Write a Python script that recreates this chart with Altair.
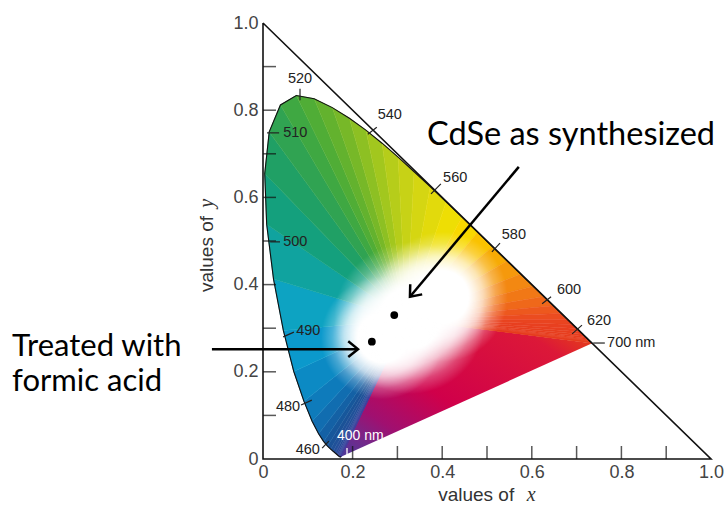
import altair as alt
import pandas as pd

# ---------------- data ----------------
# CIE 1931 spectral locus (wavelength nm, x, y)
wavelengths = [380, 385, 390, 395, 400, 405, 410, 415, 420, 425, 430, 435, 440, 445, 450,
               455, 460, 465, 470, 475, 480, 485, 490, 495, 500, 505, 510, 515, 520, 525,
               530, 535, 540, 545, 550, 555, 560, 565, 570, 575, 580, 585, 590, 595, 600,
               605, 610, 615, 620, 625, 630, 635, 640, 645, 650, 655, 660, 665, 670, 675,
               680, 700]
locus_x = [0.1741, 0.1740, 0.1738, 0.1736, 0.1733, 0.1730, 0.1726, 0.1721, 0.1714, 0.1703,
           0.1689, 0.1669, 0.1644, 0.1611, 0.1566, 0.1510, 0.1440, 0.1355, 0.1241, 0.1096,
           0.0913, 0.0687, 0.0454, 0.0235, 0.0082, 0.0039, 0.0139, 0.0389, 0.0743, 0.1142,
           0.1547, 0.1929, 0.2296, 0.2658, 0.3016, 0.3373, 0.3731, 0.4087, 0.4441, 0.4788,
           0.5125, 0.5448, 0.5752, 0.6029, 0.6270, 0.6482, 0.6658, 0.6801, 0.6915, 0.7006,
           0.7079, 0.7140, 0.7190, 0.7230, 0.7260, 0.7283, 0.7300, 0.7311, 0.7320, 0.7327,
           0.7334, 0.7347]
locus_y = [0.0050, 0.0050, 0.0049, 0.0049, 0.0048, 0.0048, 0.0048, 0.0048, 0.0051, 0.0058,
           0.0069, 0.0086, 0.0109, 0.0138, 0.0177, 0.0227, 0.0297, 0.0399, 0.0578, 0.0868,
           0.1327, 0.2007, 0.2950, 0.4127, 0.5384, 0.6548, 0.7502, 0.8120, 0.8338, 0.8262,
           0.8059, 0.7816, 0.7543, 0.7243, 0.6923, 0.6589, 0.6245, 0.5896, 0.5547, 0.5202,
           0.4866, 0.4544, 0.4242, 0.3965, 0.3725, 0.3514, 0.3340, 0.3197, 0.3083, 0.2993,
           0.2920, 0.2859, 0.2809, 0.2770, 0.2740, 0.2717, 0.2700, 0.2689, 0.2680, 0.2673,
           0.2666, 0.2653]

# edge colours
color_wl = [380, 420, 450, 460, 470, 480, 490, 495, 500, 505, 510, 520, 530, 540, 550,
            560, 570, 575, 580, 590, 600, 610, 620, 700]
color_hex = ["#4b3a9a", "#45409e", "#22509a", "#185296", "#1266aa", "#0c82c0", "#0aa0d0",
             "#10a6b4", "#10a08a", "#18a070", "#28a05a", "#46aa3a", "#6cb42a", "#98c420",
             "#c0d018", "#dcd810", "#f4e000", "#fcd000", "#f8b400", "#f49010", "#f07018",
             "#ec5020", "#e84020", "#e43a1c"]
purple_offsets = [0.0, 0.12, 0.55, 0.78, 0.9, 1.0]
purple_colors = ["#e43a1c", "#dc1838", "#d0004a", "#a01070", "#702a8c", "#4b3a9a"]

white_x, white_y = 0.32, 0.32
blob_x = [0.276, 0.332, 0.398]
blob_y = [0.278, 0.323, 0.372]
blob_r = [0.17, 0.21, 0.18]

# measured sample points
pt_x = [0.293, 0.243]
pt_y = [0.330, 0.269]

# wavelength markers
wl_text = ["520", "510", "540", "560", "580", "600", "620", "700 nm", "500", "490", "480", "460"]
wl_lx = [0.0826, 0.045, 0.256, 0.402, 0.533, 0.656, 0.723, 0.768, 0.045, 0.074, 0.083, 0.127]
wl_ly = [0.872, 0.748, 0.789, 0.644, 0.514, 0.388, 0.317, 0.266, 0.498, 0.294, 0.119, 0.021]
wl_align = ["center", "left", "left", "left", "left", "left", "left", "left", "left", "left", "right", "right"]
tk_x1 = [0.0826, 0.009, 0.234, 0.375, 0.511, 0.623, 0.690, 0.737, 0.016, 0.045, 0.085, 0.132]
tk_y1 = [0.849, 0.748, 0.745, 0.608, 0.475, 0.356, 0.287, 0.266, 0.498, 0.280, 0.124, 0.025]
tk_x2 = [0.0826, 0.036, 0.254, 0.397, 0.529, 0.643, 0.712, 0.763, 0.038, 0.069, 0.109, 0.147]
tk_y2 = [0.823, 0.748, 0.761, 0.631, 0.495, 0.372, 0.307, 0.266, 0.498, 0.291, 0.135, 0.041]

# "400 nm" marker (white)
v_text, v_lx, v_ly = ["400 nm"], [0.165], [0.053]
v_tx1, v_ty1, v_tx2, v_ty2 = [0.1875], [0.025], [0.1875], [0.005]

# axis ticks
x_ticks = [0.2, 0.3, 0.4, 0.5, 0.6, 0.7, 0.8, 0.9]
y_ticks = [0.1, 0.2, 0.3, 0.4, 0.5, 0.6, 0.7, 0.8, 0.9]
axis_labels = [0, 0.2, 0.4, 0.6, 0.8, 1.0]

# annotations
ann_text = ["CdSe as synthesized", "Treated with", "formic acid"]
ann_x = [0.366, -0.560, -0.560]
ann_y = [0.720, 0.236, 0.156]
ann_size = [32.5, 31, 31]
arr_x1 = [0.571, -0.114]
arr_y1 = [0.670, 0.252]
arr_x2 = [0.328, 0.212]
arr_y2 = [0.372, 0.252]
arr_angle = [130, 0]

# axis titles (plain part + italic variable)
title_txt = ["values of", "x"]
title_x = [0.391, 0.589]
title_y = [-0.082, -0.082]
ytitle_txt = ["values of", "y"]
ytitle_x = [-0.125, -0.125]
ytitle_y = [0.383, 0.576]

# ---------------- build ----------------
X = alt.Scale(domain=[0, 1], nice=False, zero=False)
Y = alt.Scale(domain=[0, 1], nice=False, zero=False)
lab_expr = "datum.value == 0 ? '0' : format(datum.value, '.1f')"
X_AXIS = alt.Axis(values=axis_labels, ticks=False, tickSize=0, domain=False, grid=False,
                  title=None, labelExpr=lab_expr, labelFont="Liberation Sans",
                  labelFontSize=18, labelColor="#444", labelPadding=4, labelFlush=False)
Y_AXIS = alt.Axis(values=axis_labels, ticks=False, tickSize=0, domain=False, grid=False,
                  title=None, labelExpr=lab_expr, labelFont="Liberation Sans",
                  labelFontSize=18, labelColor="#444", labelPadding=5, labelFlush=False)
xe = lambda f="x": alt.X(f"{f}:Q", scale=X, axis=X_AXIS)
ye = lambda f="y": alt.Y(f"{f}:Q", scale=Y, axis=Y_AXIS)

rows = []
for i in range(len(wavelengths) - 1):
    mid = (wavelengths[i] + wavelengths[i + 1]) / 2
    for k, (px, py) in enumerate([(white_x, white_y), (locus_x[i], locus_y[i]),
                                  (locus_x[i + 1], locus_y[i + 1])]):
        rows.append({"w": i, "k": k, "x": px, "y": py, "wl": mid})
wedge_df = pd.DataFrame(rows)
cscale = alt.Scale(domain=color_wl, range=color_hex, interpolate="rgb")

wedges = alt.Chart(wedge_df).mark_line(strokeWidth=0.7, strokeJoin="round").encode(
    x=xe(), y=ye(), order="k:Q", detail="w:N",
    fill=alt.Fill("wl:Q", scale=cscale, legend=None),
    stroke=alt.Stroke("wl:Q", scale=cscale, legend=None))

# purple triangle
tri_x = [white_x, locus_x[-1], locus_x[0]]
tri_y = [white_y, locus_y[-1], locus_y[0]]
bx0, bx1, by0, by1 = min(tri_x), max(tri_x), min(tri_y), max(tri_y)
pgrad = {"gradient": "linear",
         "x1": (locus_x[-1] - bx0) / (bx1 - bx0), "y1": (by1 - locus_y[-1]) / (by1 - by0),
         "x2": (locus_x[0] - bx0) / (bx1 - bx0), "y2": (by1 - locus_y[0]) / (by1 - by0),
         "stops": [{"offset": o, "color": c} for o, c in zip(purple_offsets, purple_colors)]}
tri = alt.Chart(pd.DataFrame({"x": tri_x, "y": tri_y, "k": [0, 1, 2]})).mark_line(
    fill=pgrad, strokeWidth=0).encode(x=xe(), y=ye(), order="k:Q")

# white blobs over the gamut
gamut_df = pd.DataFrame({"x": locus_x, "y": locus_y, "k": list(range(len(locus_x)))})
gx0, gx1, gy0, gy1 = min(locus_x), max(locus_x), min(locus_y), max(locus_y)
blobs = []
for bx, by, r in zip(blob_x, blob_y, blob_r):
    cx = (bx - gx0) / (gx1 - gx0)
    cy = (gy1 - by) / (gy1 - gy0)
    g = {"gradient": "radial", "x1": cx, "y1": cy, "r1": 0, "x2": cx, "y2": cy, "r2": r,
         "stops": [{"offset": 0, "color": "rgba(255,255,255,1)"},
                   {"offset": 0.4, "color": "rgba(255,255,255,1)"},
                   {"offset": 0.62, "color": "rgba(255,255,255,0.7)"},
                   {"offset": 0.82, "color": "rgba(255,255,255,0.25)"},
                   {"offset": 1, "color": "rgba(255,255,255,0)"}]}
    blobs.append(alt.Chart(gamut_df).mark_line(fill=g, strokeWidth=0).encode(
        x=xe(), y=ye(), order="k:Q"))

outline = alt.Chart(gamut_df).mark_line(color="#111", strokeWidth=1.1).encode(
    x=xe(), y=ye(), order="k:Q")

frame_df = pd.DataFrame({"x": [0, 0, 1, 0], "y": [1, 0, 0, 1], "k": [0, 1, 2, 3]})
frame = alt.Chart(frame_df).mark_line(color="#111", strokeWidth=1.6).encode(
    x=xe(), y=ye(), order="k:Q")

xt = alt.Chart(pd.DataFrame({"v": x_ticks})).mark_tick(
    orient="vertical", size=13, thickness=1.5, color="#111", yOffset=-6.5).encode(
    x=xe("v"), y=alt.YDatum(0, scale=Y, axis=Y_AXIS))
yt = alt.Chart(pd.DataFrame({"v": y_ticks})).mark_tick(
    orient="horizontal", size=13, thickness=1.5, color="#111", xOffset=6.5).encode(
    y=ye("v"), x=alt.XDatum(0, scale=X, axis=X_AXIS))

wl_df = pd.DataFrame({"t": wl_text, "lx": wl_lx, "ly": wl_ly, "al": wl_align,
                      "x1": tk_x1, "y1": tk_y1, "x2": tk_x2, "y2": tk_y2})
wl_ticks = alt.Chart(wl_df).mark_rule(color="#222", strokeWidth=1.2).encode(
    x=xe("x1"), y=ye("y1"), x2="x2:Q", y2="y2:Q")
wl_layers = []
for al in ["left", "center", "right"]:
    wl_layers.append(alt.Chart(wl_df).transform_filter(alt.datum.al == al).mark_text(
        align=al, baseline="middle", font="Liberation Sans", fontSize=14.5, color="#222").encode(
        x=xe("lx"), y=ye("ly"), text="t:N"))

v_df = pd.DataFrame({"t": v_text, "lx": v_lx, "ly": v_ly, "x1": v_tx1, "y1": v_ty1,
                     "x2": v_tx2, "y2": v_ty2})
v_tick = alt.Chart(v_df).mark_rule(color="white", strokeWidth=1.3).encode(
    x=xe("x1"), y=ye("y1"), x2="x2:Q", y2="y2:Q")
v_lab = alt.Chart(v_df).mark_text(align="left", baseline="middle", font="Liberation Sans",
                                  fontSize=14, color="white").encode(
    x=xe("lx"), y=ye("ly"), text="t:N")

pts = alt.Chart(pd.DataFrame({"x": pt_x, "y": pt_y})).mark_circle(
    size=60, color="black", opacity=1).encode(x=xe(), y=ye())

arr_df = pd.DataFrame({"x1": arr_x1, "y1": arr_y1, "x2": arr_x2, "y2": arr_y2, "a": arr_angle})
arr_lines = alt.Chart(arr_df).mark_rule(color="black", strokeWidth=2.5).encode(
    x=xe("x1"), y=ye("y1"), x2="x2:Q", y2="y2:Q")
arr_heads = alt.Chart(arr_df).mark_point(
    shape="M-1,-0.8L0,0L-1,0.8", size=380, filled=False, color="black", strokeWidth=2.5,
    opacity=1).encode(x=xe("x2"), y=ye("y2"), angle=alt.Angle("a:Q", scale=None))

ann_df = pd.DataFrame({"t": ann_text, "x": ann_x, "y": ann_y, "s": ann_size})
ann = alt.Chart(ann_df).mark_text(
    align="left", baseline="alphabetic", font="Lato", color="black").encode(
    x=xe(), y=ye(), text="t:N", size=alt.Size("s:Q", scale=None, legend=None))

tparts = []
for i in range(2):
    fnt = "Liberation Sans" if i == 0 else "Liberation Serif"
    sty = "normal" if i == 0 else "italic"
    fs = 19 if i == 0 else 20
    tparts.append(alt.Chart(pd.DataFrame({"t": [title_txt[i]], "x": [title_x[i]], "y": [title_y[i]]})).mark_text(
        align="left", baseline="middle", font=fnt, fontSize=fs, fontStyle=sty,
        color="#333").encode(x=xe(), y=ye(), text="t:N"))
    tparts.append(alt.Chart(pd.DataFrame({"t": [ytitle_txt[i]], "x": [ytitle_x[i]], "y": [ytitle_y[i]]})).mark_text(
        align="left", baseline="middle", font=fnt, fontSize=fs, angle=270, fontStyle=sty,
        color="#333").encode(x=xe(), y=ye(), text="t:N"))

chart = alt.layer(
    tri, wedges, *blobs, outline, frame, xt, yt, wl_ticks, *wl_layers, v_tick, v_lab,
    pts, arr_lines, arr_heads, ann, *tparts
).properties(
    width=448, height=436,
    autosize=alt.AutoSizeParams(type="none"),
    padding={"left": 263, "top": 23, "right": 14, "bottom": 47},
    background="white"
).configure_view(stroke=None)

chart.save("out.html", embed_options={"renderer": "svg", "actions": False})
